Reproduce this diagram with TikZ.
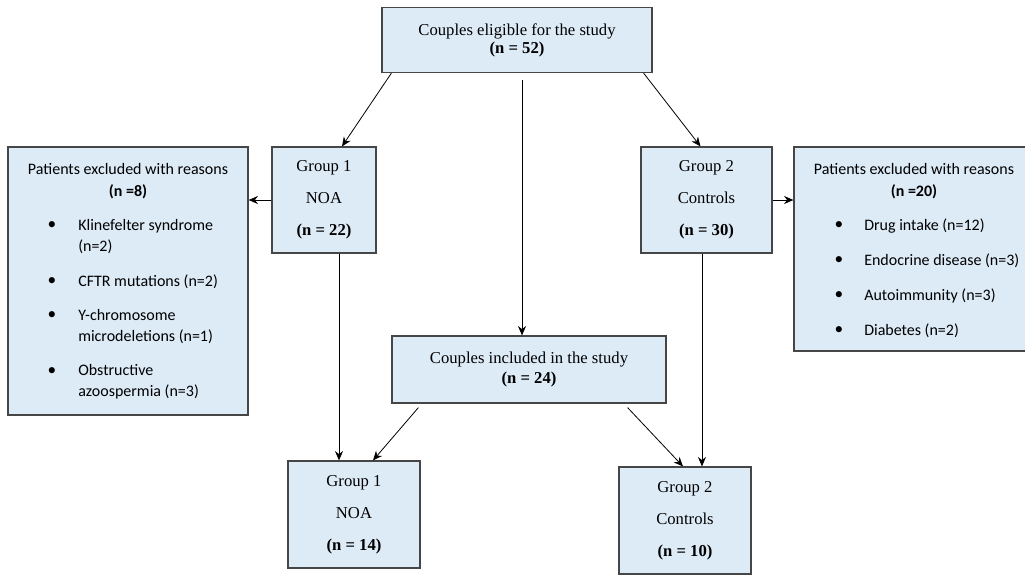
\documentclass[tikz,border=0pt]{standalone}
\usepackage{fontspec}
\setmainfont{Liberation Serif}
\newfontfamily\listfont{Carlito}
\usetikzlibrary{arrows.meta,positioning}
\definecolor{boxblue}{RGB}{221,235,247}
\definecolor{boxline}{RGB}{70,70,70}

\begin{document}
\begin{tikzpicture}[
    x=0.75pt, y=-0.75pt,
    box/.style={draw=boxline, fill=boxblue, line width=0.9pt, inner sep=2pt, align=center, font=\fontsize{12.5}{13.5}\selectfont},
    grpbox/.style={box, minimum height=79.5pt, font=\fontsize{12.5}{24}\selectfont},
    exclbox/.style={draw=boxline, fill=boxblue, line width=0.9pt, inner sep=0pt},
    head/.style={font=\listfont\fontsize{12}{16.5}\selectfont, align=center, inner sep=0pt},
    item/.style={font=\listfont\fontsize{12}{15.75}\selectfont, align=left, anchor=west, inner sep=0pt},
    dot/.style={font=\listfont\fontsize{13}{13}\selectfont, inner sep=0pt},
    arr/.style={-{Stealth[length=7pt,width=6pt]}, line width=0.6pt},
]
    \useasboundingbox (0,0) rectangle (1025,575);

    % ============= Top: eligible couples =============
    \node[box, minimum width=202.5pt, minimum height=48.75pt] (eligible) at (517,40) {Couples eligible for the study\\\textbf{(n = 52)}};

    % ============= Groups before exclusion =============
    \node[grpbox, minimum width=78pt] (grpA) at (324,200) {Group 1\\NOA\\\textbf{(n = 22)}};
    \node[grpbox, minimum width=98.25pt] (grpB) at (706.5,200) {Group 2\\Controls\\\textbf{(n = 30)}};

    % ============= Exclusions, Group 1 =============
    \node[exclbox, minimum width=180pt, minimum height=201pt] (exclA) at (128,281) {};
    \node[head] (exclAt) at (128,181) {Patients excluded with reasons\\\textbf{(n =8)}};
    \node[dot] (bA1) at (52,226) {\textbullet};
    \node[item] (iA1) at (78,236.5) {Klinefelter syndrome\\(n=2)};
    \node[dot] (bA2) at (52,282) {\textbullet};
    \node[item] (iA2) at (78,282) {CFTR mutations (n=2)};
    \node[dot] (bA3) at (52,316) {\textbullet};
    \node[item] (iA3) at (78,326.5) {Y-chromosome\\microdeletions (n=1)};
    \node[dot] (bA4) at (52,372) {\textbullet};
    \node[item] (iA4) at (78,382) {Obstructive\\azoospermia (n=3)};

    % ============= Exclusions, Group 2 =============
    \node[exclbox, minimum width=177pt, minimum height=153pt] (exclB) at (912,249) {};
    \node[head] (exclBt) at (914,181) {Patients excluded with reasons\\\textbf{(n =20)}};
    \node[dot] (bB1) at (839,226) {\textbullet};
    \node[item] (iB1) at (864,226) {Drug intake (n=12)};
    \node[dot] (bB2) at (839,261) {\textbullet};
    \node[item] (iB2) at (864,261) {Endocrine disease (n=3)};
    \node[dot] (bB3) at (839,296) {\textbullet};
    \node[item] (iB3) at (864,296) {Autoimmunity (n=3)};
    \node[dot] (bB4) at (839,331) {\textbullet};
    \node[item] (iB4) at (864,331) {Diabetes (n=2)};

    % ============= Included couples and final groups =============
    \node[box, minimum width=205.5pt, minimum height=50.25pt, font=\fontsize{12.5}{15}\selectfont] (included) at (529,369.5) {Couples included in the study\\\textbf{(n = 24)}};
    \node[grpbox, minimum width=99pt, minimum height=80.25pt] (finA) at (354,514.5) {Group 1\\NOA\\\textbf{(n = 14)}};
    \node[grpbox, minimum width=99pt, minimum height=80.25pt] (finB) at (685,520.5) {Group 2\\Controls\\\textbf{(n = 10)}};

    % ============= Connectors =============
    \draw[arr] ([xshift=7.5pt]eligible.south west) -- ([xshift=13.5pt]grpA.north);
    \draw[arr] ([xshift=-6.75pt]eligible.south east) -- ([xshift=-4.5pt]grpB.north);
    \draw[arr] ([xshift=3.75pt,yshift=-5.25pt]eligible.south) -- ([xshift=-5.25pt]included.north);
    \draw[arr] (grpA.west) -- (grpA.west -| exclA.east);
    \draw[arr] (grpB.east) -- (grpB.east -| exclB.west);
    \draw[arr] ([xshift=11.25pt]grpA.south) -- ([xshift=11.25pt]grpA.south |- finA.north);
    \draw[arr] ([xshift=-3.4pt]grpB.south) -- ([xshift=-3.4pt]grpB.south |- finB.north);
    \draw[arr] ([xshift=20.25pt,yshift=-3pt]included.south west) -- ([xshift=14.25pt]finA.north);
    \draw[arr] ([xshift=-29.25pt,yshift=-3pt]included.south east) -- ([xshift=-1.5pt]finB.north);
\end{tikzpicture}
\end{document}
